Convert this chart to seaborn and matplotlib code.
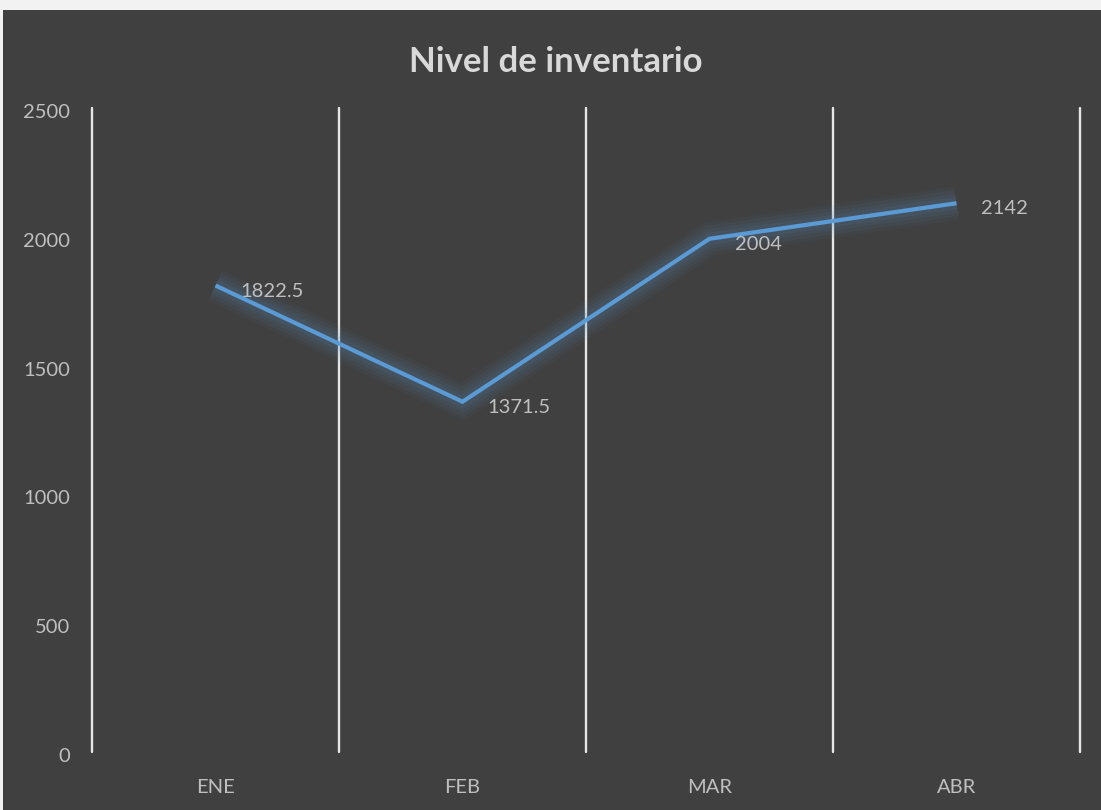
import matplotlib
matplotlib.use("Agg")
import matplotlib.pyplot as plt
import matplotlib.patheffects as pe
from matplotlib.patches import Rectangle
import pandas as pd
import seaborn as sns

# Inventory level per month
months = ["ENE", "FEB", "MAR", "ABR"]
inventory = [1822.5, 1371.5, 2004, 2142]
y_ticks = [0, 500, 1000, 1500, 2000, 2500]
title = "Nivel de inventario"

BG = "#404040"
TEXT = "#bfbfbf"
LINE = "#5B9BD5"
GRID = "#e6e6e6"

sns.set_theme(style="dark")
plt.rcParams["font.family"] = ["Lato", "DejaVu Sans"]

fig = plt.figure(figsize=(11.01, 8.10), dpi=100)
fig.patch.set_facecolor("#f2f2f2")
fig.patches.append(Rectangle((3 / 1101, 0), 1, (810 - 10) / 810,
                             transform=fig.transFigure, facecolor=BG,
                             edgecolor="none", zorder=-10))

top_px, bottom_px = 111, 755
ax = fig.add_axes([92 / 1101, (810 - bottom_px) / 810,
                   (1080 - 92) / 1101, (bottom_px - top_px) / 810])
ax.set_facecolor(BG)

df = pd.DataFrame({"mes": months, "nivel": inventory})
sns.lineplot(data=df, x="mes", y="nivel", sort=False, color=LINE,
             linewidth=3.0, ax=ax, zorder=5)
line = ax.lines[-1]
line.set_solid_capstyle("butt")
line.set_solid_joinstyle("miter")
# soft glow around the series line
line.set_path_effects([
    pe.Stroke(linewidth=24, foreground="#5a8fc4", alpha=0.05),
    pe.Stroke(linewidth=19, foreground="#5a8fc4", alpha=0.06),
    pe.Stroke(linewidth=14, foreground="#5a8fc4", alpha=0.08),
    pe.Stroke(linewidth=9, foreground="#5a8fc4", alpha=0.10),
    pe.Normal(),
])

# Category separators
span = bottom_px - top_px
for xb in [i - 0.5 for i in range(len(months) + 1)]:
    ax.axvline(xb, ymin=3 / span, ymax=1 + 3 / span, color=GRID,
               linewidth=1.7, zorder=2, clip_on=False)

# Value labels
for i, v in enumerate(inventory):
    ax.annotate(f"{v:g}", (i, v), xytext=(18, -4), textcoords="offset points",
                ha="left", va="center", color=TEXT, fontsize=14.5, zorder=6)

ax.set_xlim(-0.5, len(months) - 0.5)
ax.set_ylim(0, 2500)
ax.set_yticks(y_ticks)
ax.set_xticks(range(len(months)))
ax.set_xticklabels(months)
ax.set_xlabel("")
ax.set_ylabel("")
ax.grid(False)
for s in ax.spines.values():
    s.set_visible(False)
ax.tick_params(axis="y", length=0, pad=16, labelsize=14.5, labelcolor=TEXT)
ax.tick_params(axis="x", length=0, pad=17, labelsize=14.5, labelcolor=TEXT)

fig.text(556 / 1101, 1 - 62 / 810, title, ha="center", va="center",
         fontsize=25, fontweight="bold", color="#d9d9d9")

fig.savefig("out.png", dpi=100, facecolor=fig.get_facecolor())
